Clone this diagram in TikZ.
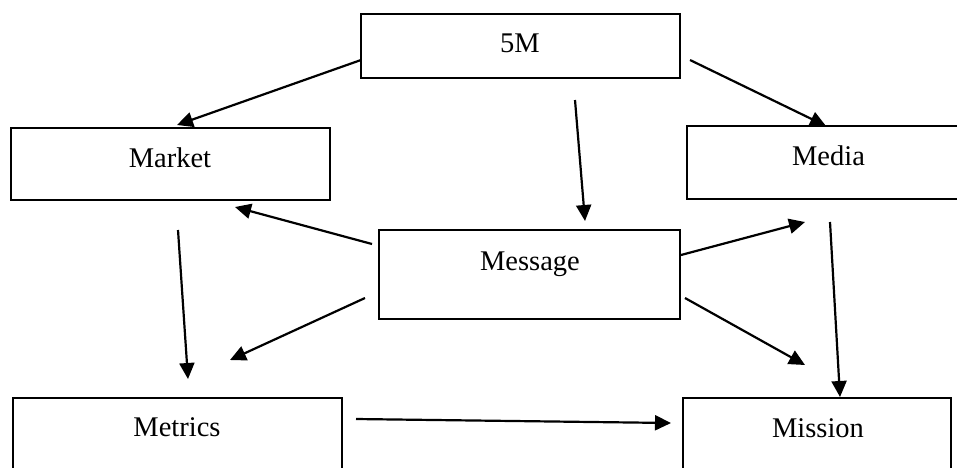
\documentclass[tikz,border=0pt]{standalone}
\usepackage{fontspec}
\setmainfont{Liberation Serif}
\usetikzlibrary{arrows.meta}
\begin{document}
\begin{tikzpicture}[x=1pt,y=-1pt,
  box/.style={draw=black,line width=2.4pt,inner sep=0pt,minimum width=#1},
  lbl/.style={anchor=base,inner sep=0pt,font=\fontsize{28.5}{34}\selectfont},
  arr/.style={line width=2.2pt,-{Triangle[length=16pt,width=15pt]}}]
\useasboundingbox (0,0) rectangle (957,467);
\clip (0,0) rectangle (957,467);
% boxes
\node[box=319pt,minimum height=64pt] (fiveM) at (520.5,46) {};
\node[box=319pt,minimum height=72pt] (market) at (170.5,164) {};
\node[box=282pt,minimum height=73pt] (media) at (828,162.5) {};
\node[box=301pt,minimum height=89pt] (message) at (529.5,274.5) {};
\node[box=329pt,minimum height=80pt] (metrics) at (177.5,438) {};
\node[box=268pt,minimum height=80pt] (mission) at (817,438) {};
% labels
\node[lbl] (t5m) at (520,52) {5M};
\node[lbl] (tmarket) at (170,167) {Market};
\node[lbl] (tmedia) at (828.5,165) {Media};
\node[lbl] (tmessage) at (530,270) {Message};
\node[lbl] (tmetrics) at (177,436) {Metrics};
\node[lbl] (tmission) at (818,437) {Mission};
% connector end points
\coordinate (a1) at (361,60);  \coordinate (b1) at (177,125);
\coordinate (a2) at (690,60);  \coordinate (b2) at (826,126);
\coordinate (a3) at (575,100); \coordinate (b3) at (585,221);
\coordinate (a4) at (372,244); \coordinate (b4) at (235,207);
\coordinate (a5) at (681,255); \coordinate (b5) at (805,222);
\coordinate (a6) at (365,298); \coordinate (b6) at (230,360);
\coordinate (a7) at (685,298); \coordinate (b7) at (805,365);
\coordinate (a8) at (178,230); \coordinate (b8) at (188,379);
\coordinate (a9) at (830,222); \coordinate (b9) at (840,397);
\coordinate (a10) at (356,419); \coordinate (b10) at (671,423);
% connectors
\draw[arr] (a1) -- (b1);
\draw[arr] (a2) -- (b2);
\draw[arr] (a3) -- (b3);
\draw[arr] (a4) -- (b4);
\draw[arr] (a5) -- (b5);
\draw[arr] (a6) -- (b6);
\draw[arr] (a7) -- (b7);
\draw[arr] (a8) -- (b8);
\draw[arr] (a9) -- (b9);
\draw[arr] (a10) -- (b10);
\end{tikzpicture}
\end{document}
